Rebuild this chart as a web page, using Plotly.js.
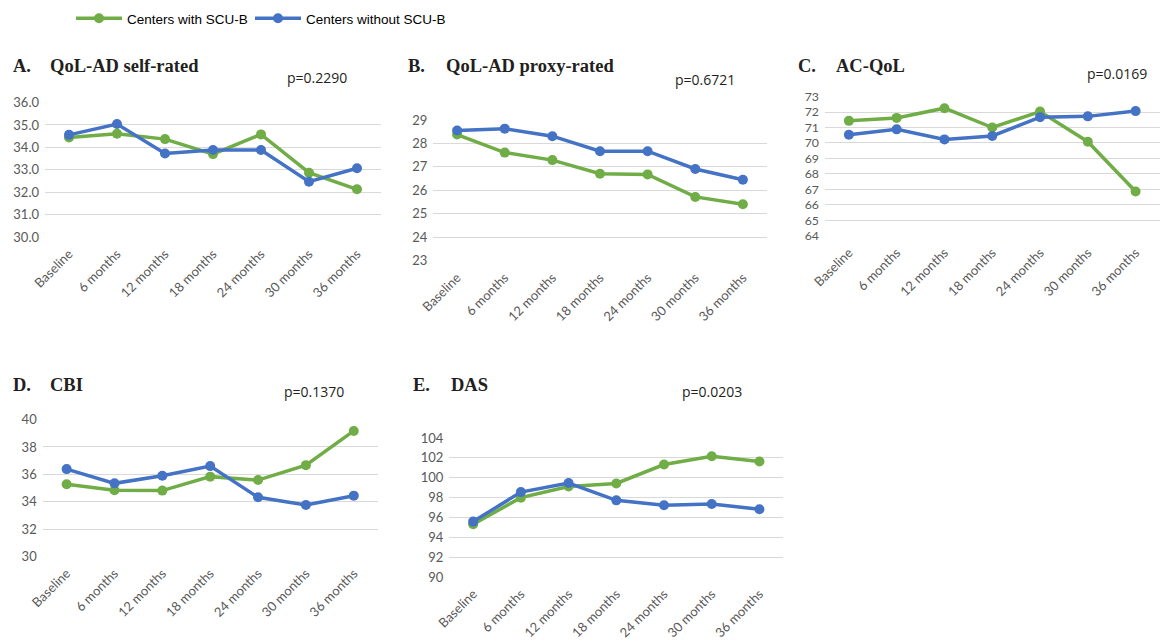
<!DOCTYPE html>
<html>
<head>
<meta charset="utf-8">
<script src="https://cdn.plot.ly/plotly-3.0.1.min.js"></script>
<style>html,body{margin:0;padding:0;background:#fff;}#chart{width:1160px;height:643px;}</style>
</head>
<body>
<div id="chart"></div>
<script>
const categories = ['Baseline', '6 months', '12 months', '18 months', '24 months', '30 months', '36 months'];
const seriesNames = ['Centers with SCU-B', 'Centers without SCU-B'];

// A. QoL-AD self-rated
const qolSelfWith    = [34.44, 34.61, 34.37, 33.70, 34.58, 32.87, 32.13];
const qolSelfWithout = [34.56, 35.04, 33.73, 33.88, 33.88, 32.47, 33.07];
// B. QoL-AD proxy-rated
const qolProxyWith    = [28.38, 27.61, 27.29, 26.71, 26.68, 25.72, 25.41];
const qolProxyWithout = [28.55, 28.63, 28.31, 27.67, 27.67, 26.91, 26.45];
// C. AC-QoL
const acqolWith    = [71.43, 71.62, 72.25, 71.00, 72.03, 70.08, 66.86];
const acqolWithout = [70.53, 70.88, 70.23, 70.45, 71.67, 71.72, 72.06];
// D. CBI
const cbiWith    = [35.27, 34.83, 34.81, 35.83, 35.58, 36.67, 39.17];
const cbiWithout = [36.38, 35.34, 35.90, 36.60, 34.32, 33.76, 34.44];
// E. DAS
const dasWith    = [95.31, 97.99, 99.12, 99.42, 101.33, 102.16, 101.63];
const dasWithout = [95.58, 98.55, 99.46, 97.72, 97.22, 97.35, 96.82];

const panelLetters = ['A.', 'B.', 'C.', 'D.', 'E.'];
const panelTitles = ['QoL-AD self-rated', 'QoL-AD proxy-rated', 'AC-QoL', 'CBI', 'DAS'];
const pValues = ['p=0.2290', 'p=0.6721', 'p=0.0169', 'p=0.1370', 'p=0.0203'];
const yRanges = [[30, 36], [23, 29], [64, 73], [30, 40], [90, 104]];
const yDticks = [1, 1, 1, 2, 2];
const yFormats = ['.1f', 'd', 'd', 'd', 'd'];

const W = 1160, H = 643;
const GREEN = '#70AD47', BLUE = '#4472C4';

// layout geometry in pixels: [left, right, top, bottom]
const boxes = [
  [45, 381, 102.3, 237.3],
  [433.3, 766.7, 119.7, 261],
  [825, 1159.5, 96.3, 236],
  [42.7, 377.7, 419.3, 556.7],
  [449.3, 783.3, 437.7, 577.3]
];
// title positions [letterX, titleX, titleY, pX, pY]
const titlePos = [
  [11, 47.7, 66, 285, 78],
  [406, 444.3, 66, 673, 79],
  [796, 834.3, 66.5, 1085, 73.5],
  [11, 47.7, 385, 281.5, 391.5],
  [411, 449.3, 385, 680, 391.5]
];
const yTickSizes = [13, 13, 12.3, 13, 13];

const withData = [qolSelfWith, qolProxyWith, acqolWith, cbiWith, dasWith];
const withoutData = [qolSelfWithout, qolProxyWithout, acqolWithout, cbiWithout, dasWithout];

const legendFont = {family: 'Liberation Sans, Arial, sans-serif', size: 13.5, color: '#000'};
const traces = [];
const layout = {
  width: W, height: H,
  margin: {l: 0, r: 0, t: 0, b: 0},
  paper_bgcolor: '#fff', plot_bgcolor: 'rgba(0,0,0,0)',
  showlegend: true,
  legend: {
    orientation: 'h', x: 71 / W, y: 1 - 3 / H, xanchor: 'left', yanchor: 'top',
    font: legendFont, itemwidth: 46, bgcolor: 'rgba(0,0,0,0)'
  },
  legend2: {
    orientation: 'h', x: 250 / W, y: 1 - 3 / H, xanchor: 'left', yanchor: 'top',
    font: legendFont, itemwidth: 46, bgcolor: 'rgba(0,0,0,0)'
  },
  annotations: [],
  hovermode: false
};

for (let i = 0; i < 5; i++) {
  const sfx = i === 0 ? '' : String(i + 1);
  const xa = 'x' + sfx, ya = 'y' + sfx;
  [[withData[i], GREEN, seriesNames[0], 'legend'], [withoutData[i], BLUE, seriesNames[1], 'legend2']].forEach(([vals, col, name, lg]) => {
    traces.push({
      type: 'scatter', mode: 'lines+markers', x: categories, y: vals,
      xaxis: xa, yaxis: ya, name: name, legend: lg, showlegend: i === 0,
      line: {color: col, width: 3.5}, marker: {color: col, size: 10}
    });
  });
  const b = boxes[i];
  const span = yRanges[i][1] - yRanges[i][0];
  layout['xaxis' + sfx] = {
    domain: [b[0] / W, b[1] / W], anchor: ya, type: 'category',
    range: [-0.5, 6.5], tickangle: -45, showgrid: false, zeroline: false, showline: false,
    ticks: 'outside', ticklen: 3, tickcolor: 'rgba(0,0,0,0)',
    tickfont: {family: 'Lato, Open Sans, sans-serif', size: 13, color: '#595959'}
  };
  layout['yaxis' + sfx] = {
    domain: [1 - b[3] / H, 1 - b[2] / H], anchor: xa,
    range: [yRanges[i][0] - span * 0.002, yRanges[i][1] + span * 0.002],
    dtick: yDticks[i], tick0: yRanges[i][0], tickformat: yFormats[i],
    showgrid: true, gridcolor: '#D9D9D9', gridwidth: 1, zeroline: false, showline: false,
    ticks: '', ticklabelstandoff: 5,
    tickfont: {family: 'Lato, Open Sans, sans-serif', size: yTickSizes[i], color: '#595959'}
  };
  const t = titlePos[i];
  layout.annotations.push({
    xref: 'paper', yref: 'paper', x: t[0] / W, y: 1 - t[2] / H, xanchor: 'left', yanchor: 'middle',
    text: '<b>' + panelLetters[i] + '</b>', showarrow: false,
    font: {family: 'Liberation Serif, Times New Roman, serif', size: 18.5, color: '#231F20'}
  });
  layout.annotations.push({
    xref: 'paper', yref: 'paper', x: t[1] / W, y: 1 - t[2] / H, xanchor: 'left', yanchor: 'middle',
    text: '<b>' + panelTitles[i] + '</b>', showarrow: false,
    font: {family: 'Liberation Serif, Times New Roman, serif', size: 18.5, color: '#231F20'}
  });
  layout.annotations.push({
    xref: 'paper', yref: 'paper', x: t[3] / W, y: 1 - t[4] / H, xanchor: 'left', yanchor: 'middle',
    text: pValues[i], showarrow: false,
    font: {family: 'Open Sans, sans-serif', size: 14, color: '#231F20'}
  });
}

Plotly.newPlot('chart', traces, layout, {staticPlot: true, displayModeBar: false});
</script>
</body>
</html>
